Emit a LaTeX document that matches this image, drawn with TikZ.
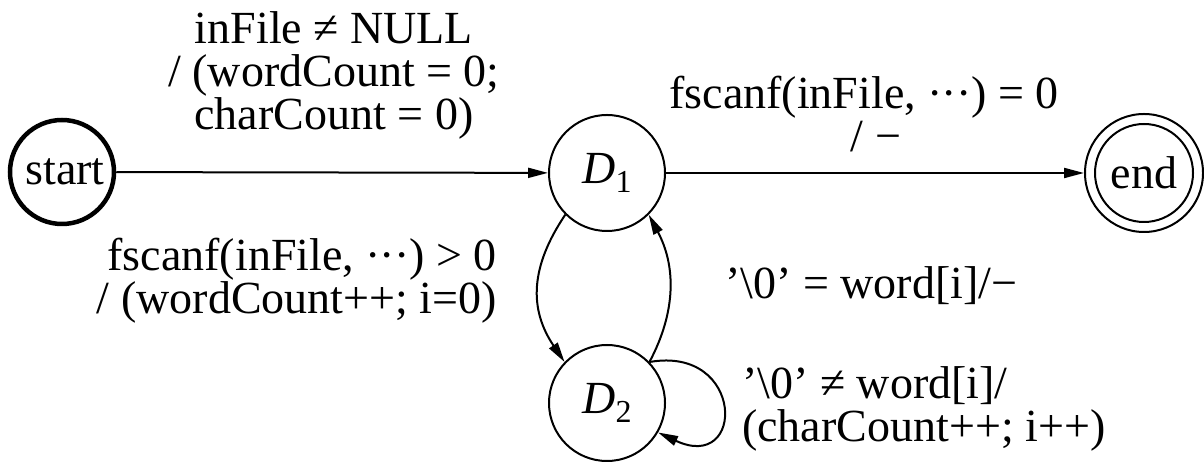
\documentclass[tikz,border=0pt]{standalone}
\usepackage{fontspec}
\setmainfont{Liberation Serif}
\usetikzlibrary{arrows.meta}
\newcommand{\Dsub}[1]{\textit{D}\raisebox{-9pt}{\fontsize{32}{32}\selectfont #1}}
\newcommand{\dts}{·\kern-1pt·\kern-1pt·}
\tikzset{
  state/.style={circle, draw, line width=2pt, minimum size=116pt, inner sep=0pt,
    font=\fontsize{46}{43}\selectfont},
  edge/.style={line width=2pt, -{Triangle[length=20pt,width=10pt]}},
  lbl/.style={inner sep=0pt, font=\fontsize{46}{43}\selectfont}
}
\begin{document}
\begin{tikzpicture}[x=1pt,y=1pt]
\useasboundingbox (0,0) rectangle (1204,462);
\node[state, line width=4.5pt, minimum size=104pt] (start) at (62,290) {\hspace*{6pt}start};
\node[state] (D1) at (607,289) {\Dsub{1}};
\node[state] (D2) at (607,59) {\Dsub{2}};
\node[state, minimum size=98pt] (endi) at (1144,289) {end};
\node[state, minimum size=118pt] (end) at (1144,289) {};

\draw[edge] (start) -- (D1);
\draw[edge] (D1) -- (end);
\draw[edge] (D1.225) to[out=236,in=124,looseness=1.1] (D2.136);
\draw[edge] (D2.44) to[out=62,in=298,looseness=1] (D1.315);
\draw[edge] (D2.44) to[out=10,in=-25,looseness=3.5] (D2.-30);

\node[lbl, align=center] (l1) at (334,387) {inFile ≠ NULL\\/ (wordCount = 0;\\charCount = 0)};
\node[lbl, align=center] (l2) at (864,348) {fscanf(inFile, \dts) = 0\\\hspace*{24pt}/ −};
\node[lbl, align=right, anchor=east] (l3) at (497,181) {fscanf(inFile, \dts) > 0\\/ (wordCount++;\ i=0)};
\node[lbl, anchor=base west] (l4) at (725,163) {’\textbackslash 0’ = word[i]/−};
\node[lbl, align=left, anchor=west] (l5) at (742,53.5) {’\textbackslash 0’ ≠ word[i]/\\(charCount++; i++)};
\end{tikzpicture}
\end{document}
